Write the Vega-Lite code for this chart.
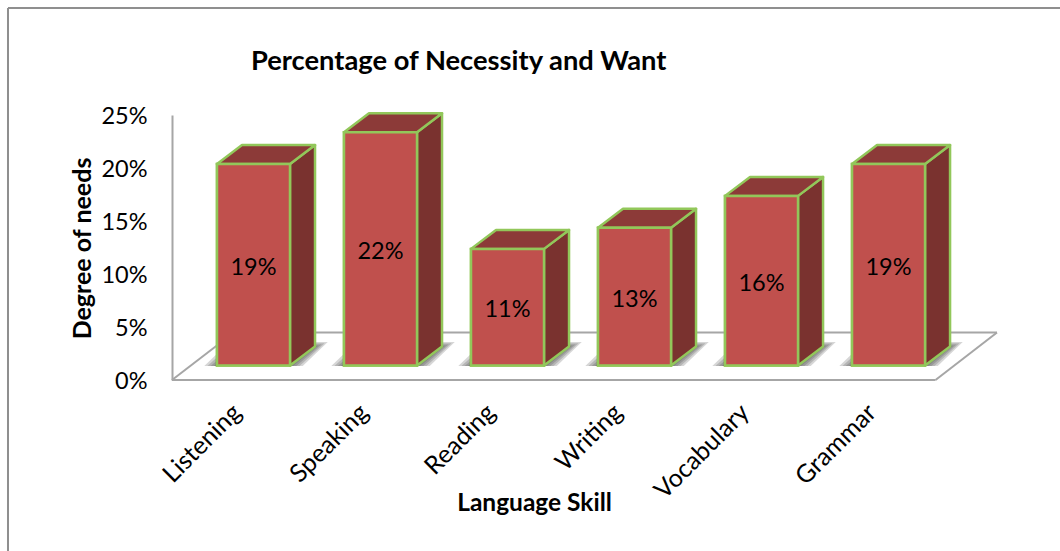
{
  "$schema": "https://vega.github.io/schema/vega-lite/v6.json",
  "width": 825,
  "height": 265,
  "autosize": {"type": "none"},
  "padding": {"left": 172, "top": 115, "right": 63, "bottom": 171},
  "background": "white",
  "config": {"view": {"stroke": null}, "font": "Lato"},
  "title": {
    "text": "Percentage of Necessity and Want",
    "anchor": "start",
    "frame": "group",
    "dx": 79,
    "offset": -68,
    "font": "Lato",
    "fontSize": 27.3,
    "fontWeight": "bold",
    "color": "#000000"
  },
  "data": {
    "values": [
      {"skill": "Listening", "value": 19},
      {"skill": "Speaking", "value": 22},
      {"skill": "Reading", "value": 11},
      {"skill": "Writing", "value": 13},
      {"skill": "Vocabulary", "value": 16},
      {"skill": "Grammar", "value": 19}
    ]
  },
  "transform": [
    {"window": [{"op": "row_number", "as": "rowNo"}]},
    {"calculate": "datum.rowNo - 1", "as": "slot"},
    {"calculate": "datum.slot - 0.2874", "as": "left"},
    {"calculate": "datum.slot + 0.2874", "as": "right"},
    {"calculate": "1.37", "as": "base"},
    {"calculate": "datum.value + 1.37", "as": "top"},
    {"calculate": "1.37 + datum.value / 2 - 0.3", "as": "mid"},
    {"calculate": "datum.value + '%'", "as": "valueLabel"}
  ],
  "layer": [
    {
      "description": "Front faces of the boxes drawn first to declare axes and scales; redrawn on top later",
      "mark": {"type": "rect", "fill": "#c0504d", "stroke": "#92c75a", "strokeWidth": 2.5},
      "encoding": {
        "x": {
          "field": "left",
          "type": "quantitative",
          "title": "Language Skill",
          "scale": {"domain": [-0.6417, 5.854], "nice": false, "zero": false},
          "axis": {
            "titleFont": "Lato",
            "titleFontSize": 24.5,
            "titleFontWeight": "bold",
            "titleColor": "#000000",
            "titleX": 362,
            "titleY": 111,
            "values": [0, 1, 2, 3, 4, 5],
            "labelExpr": "['Listening', 'Speaking', 'Reading', 'Writing', 'Vocabulary', 'Grammar'][datum.value]",
            "labelAngle": -45,
            "labelAlign": "right",
            "labelBaseline": "middle",
            "labelFont": "Lato",
            "labelFontSize": 25,
            "labelColor": "#000000",
            "labelPadding": 28,
            "labelOffset": -17,
            "labelOverlap": false,
            "labelBound": false,
            "labelFlush": false,
            "ticks": false,
            "domain": false,
            "grid": false
          }
        },
        "x2": {"field": "right"},
        "y": {
          "field": "top",
          "type": "quantitative",
          "title": "Degree of needs",
          "scale": {"domain": [0, 25], "nice": false, "zero": false},
          "axis": {
            "titleFont": "Lato",
            "titleFontSize": 25,
            "titleFontWeight": "bold",
            "titleColor": "#000000",
            "titleX": -77,
            "titleY": 133,
            "values": [0, 5, 10, 15, 20, 25],
            "labelExpr": "datum.value + '%'",
            "labelFont": "Lato",
            "labelFontSize": 23.5,
            "labelColor": "#000000",
            "labelPadding": 25,
            "labelOffset": 1,
            "labelOverlap": false,
            "labelBound": false,
            "ticks": false,
            "domain": true,
            "domainColor": "#a6a6a6",
            "domainWidth": 2,
            "grid": false
          }
        },
        "y2": {"field": "base"}
      }
    },
    {
      "description": "Outer frame of the chart, top edge",
      "data": {"values": [{}]},
      "transform": [],
      "mark": {"type": "rule", "stroke": "#8f8f8f", "strokeWidth": 2},
      "encoding": {
        "x": {"datum": -1.933, "type": "quantitative", "title": "Language Skill"},
        "x2": {"datum": 6.35},
        "y": {"datum": 35.09, "type": "quantitative", "title": "Degree of needs"}
      }
    },
    {
      "description": "Outer frame of the chart, left edge",
      "data": {"values": [{}]},
      "transform": [],
      "mark": {"type": "rule", "stroke": "#8f8f8f", "strokeWidth": 2},
      "encoding": {
        "x": {"datum": -1.933, "type": "quantitative", "title": "Language Skill"},
        "y": {"datum": 35.09, "type": "quantitative", "title": "Degree of needs"},
        "y2": {"datum": -16.13}
      }
    },
    {
      "description": "Floor, back edge",
      "data": {"values": [{}]},
      "transform": [],
      "mark": {"type": "rule", "stroke": "#a6a6a6", "strokeWidth": 2},
      "encoding": {
        "x": {"datum": -0.155, "type": "quantitative", "title": "Language Skill"},
        "x2": {"datum": 5.854},
        "y": {"datum": 4.48, "type": "quantitative", "title": "Degree of needs"}
      }
    },
    {
      "description": "Floor, front edge",
      "data": {"values": [{}]},
      "transform": [],
      "mark": {"type": "rule", "stroke": "#a6a6a6", "strokeWidth": 2},
      "encoding": {
        "x": {"datum": -0.6417, "type": "quantitative", "title": "Language Skill"},
        "x2": {"datum": 5.37},
        "y": {"datum": 0, "type": "quantitative", "title": "Degree of needs"}
      }
    },
    {
      "description": "Floor, left diagonal",
      "data": {"values": [{}]},
      "transform": [],
      "mark": {"type": "rule", "stroke": "#a6a6a6", "strokeWidth": 2},
      "encoding": {
        "x": {"datum": -0.6417, "type": "quantitative", "title": "Language Skill"},
        "x2": {"datum": -0.155},
        "y": {"datum": 0, "type": "quantitative", "title": "Degree of needs"},
        "y2": {"datum": 4.48}
      }
    },
    {
      "description": "Floor, right diagonal",
      "data": {"values": [{}]},
      "transform": [],
      "mark": {"type": "rule", "stroke": "#a6a6a6", "strokeWidth": 2},
      "encoding": {
        "x": {"datum": 5.37, "type": "quantitative", "title": "Language Skill"},
        "x2": {"datum": 5.854},
        "y": {"datum": 0, "type": "quantitative", "title": "Degree of needs"},
        "y2": {"datum": 4.48}
      }
    },
    {
      "description": "Soft shadow on the floor, four nested sheets",
      "transform": [
        {"calculate": "[0, 1]", "as": "corner"},
        {"flatten": ["corner"]},
        {"calculate": "[1, 2, 3, 4]", "as": "spread"},
        {"flatten": ["spread"]},
        {"calculate": "datum.slot + datum.corner * 0.197", "as": "shift"},
        {"calculate": "datum.shift - 0.2874 - 0.025 * datum.spread", "as": "sx0"},
        {"calculate": "datum.shift + 0.2874 + 0.025 * datum.spread", "as": "sx1"},
        {"calculate": "datum.base + datum.corner * (1.79 + 0.12 * datum.spread) - 0.05", "as": "sy"},
        {"calculate": "datum.skill + datum.spread", "as": "sheet"}
      ],
      "mark": {"type": "area", "orient": "horizontal", "fill": "#303030", "opacity": 0.2},
      "encoding": {
        "y": {"field": "sy", "type": "quantitative", "title": "Degree of needs"},
        "x": {"field": "sx0", "type": "quantitative", "title": "Language Skill"},
        "x2": {"field": "sx1"},
        "detail": {"field": "sheet"}
      }
    },
    {
      "description": "Right-hand faces of the boxes",
      "transform": [
        {"calculate": "[0, 1]", "as": "corner"},
        {"flatten": ["corner"]},
        {"calculate": "datum.right + datum.corner * 0.197", "as": "fx"},
        {"calculate": "datum.top + datum.corner * 1.79", "as": "fy"},
        {"calculate": "datum.base + datum.corner * 1.79", "as": "fy2"}
      ],
      "mark": {"type": "area", "orient": "vertical", "fill": "#7a322f", "stroke": "#92c75a", "strokeWidth": 2.5, "strokeJoin": "round"},
      "encoding": {
        "x": {"field": "fx", "type": "quantitative", "title": "Language Skill"},
        "y": {"field": "fy", "type": "quantitative", "title": "Degree of needs"},
        "y2": {"field": "fy2"},
        "detail": {"field": "skill"}
      }
    },
    {
      "description": "Top faces of the boxes",
      "transform": [
        {"calculate": "[0, 1]", "as": "corner"},
        {"flatten": ["corner"]},
        {"calculate": "datum.left + datum.corner * 0.197", "as": "tx0"},
        {"calculate": "datum.right + datum.corner * 0.197", "as": "tx1"},
        {"calculate": "datum.top + datum.corner * 1.79", "as": "ty"}
      ],
      "mark": {"type": "area", "orient": "horizontal", "fill": "#8c3a38", "stroke": "#92c75a", "strokeWidth": 2.5, "strokeJoin": "round"},
      "encoding": {
        "y": {"field": "ty", "type": "quantitative", "title": "Degree of needs"},
        "x": {"field": "tx0", "type": "quantitative", "title": "Language Skill"},
        "x2": {"field": "tx1"},
        "detail": {"field": "skill"}
      }
    },
    {
      "description": "Front faces of the boxes",
      "mark": {"type": "rect", "fill": "#c0504d", "stroke": "#92c75a", "strokeWidth": 2.5},
      "encoding": {
        "x": {"field": "left", "type": "quantitative", "title": "Language Skill"},
        "x2": {"field": "right"},
        "y": {"field": "top", "type": "quantitative", "title": "Degree of needs"},
        "y2": {"field": "base"}
      }
    },
    {
      "description": "Value labels on the front faces",
      "mark": {"type": "text", "font": "Lato", "fontSize": 23.5, "color": "#000000", "baseline": "middle", "align": "center"},
      "encoding": {
        "x": {"field": "slot", "type": "quantitative", "title": "Language Skill"},
        "y": {"field": "mid", "type": "quantitative", "title": "Degree of needs"},
        "text": {"field": "valueLabel", "type": "nominal"}
      }
    }
  ]
}
